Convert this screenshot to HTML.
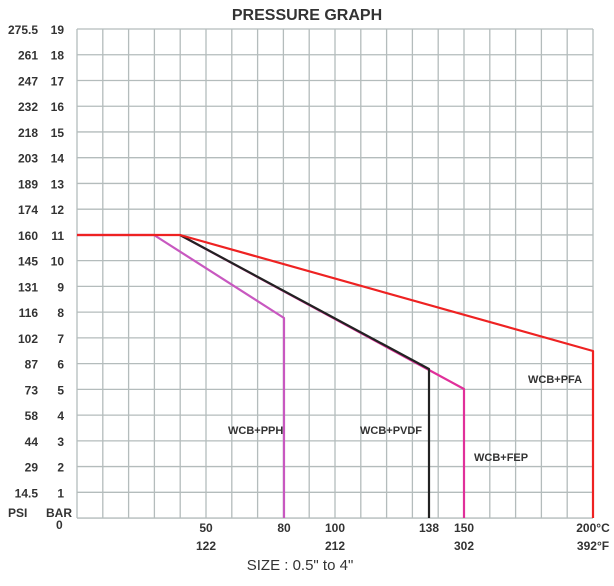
<!DOCTYPE html>
<html><head><style>
body{margin:0;background:#fff;}
svg text{font-family:"Liberation Sans Narrow","Liberation Sans",sans-serif;font-weight:bold;fill:#333;}
</style></head><body>
<svg width="614" height="581" viewBox="0 0 614 581" xmlns="http://www.w3.org/2000/svg">
<path stroke="#b4bcbc" stroke-width="1.3" fill="none" d="
M77 29V518M102.8 29V518M128.6 29V518M154.4 29V518M180.2 29V518M206 29V518M231.8 29V518M257.6 29V518M283.4 29V518M309.2 29V518M335 29V518M360.8 29V518M386.6 29V518M412.4 29V518M438.2 29V518M464 29V518M489.8 29V518M515.6 29V518M541.4 29V518M567.2 29V518M593 29V518
M77 29H593M77 54.74H593M77 80.48H593M77 106.22H593M77 131.96H593M77 157.7H593M77 183.44H593M77 209.18H593M77 234.92H593M77 260.66H593M77 286.4H593M77 312.14H593M77 337.88H593M77 363.62H593M77 389.36H593M77 415.1H593M77 440.84H593M77 466.58H593M77 492.32H593M77 518.06H593"/>
<text x="307" y="20" font-size="16" text-anchor="middle">PRESSURE GRAPH</text>
<g font-size="12" text-anchor="end">
<text x="38" y="34">275.5</text><text x="64" y="34">19</text>
<text x="38" y="59.7">261</text><text x="64" y="59.7">18</text>
<text x="38" y="85.5">247</text><text x="64" y="85.5">17</text>
<text x="38" y="111.2">232</text><text x="64" y="111.2">16</text>
<text x="38" y="137">218</text><text x="64" y="137">15</text>
<text x="38" y="162.7">203</text><text x="64" y="162.7">14</text>
<text x="38" y="188.4">189</text><text x="64" y="188.4">13</text>
<text x="38" y="214.2">174</text><text x="64" y="214.2">12</text>
<text x="38" y="239.9">160</text><text x="64" y="239.9">11</text>
<text x="38" y="265.7">145</text><text x="64" y="265.7">10</text>
<text x="38" y="291.4">131</text><text x="64" y="291.4">9</text>
<text x="38" y="317.1">116</text><text x="64" y="317.1">8</text>
<text x="38" y="342.9">102</text><text x="64" y="342.9">7</text>
<text x="38" y="368.6">87</text><text x="64" y="368.6">6</text>
<text x="38" y="394.4">73</text><text x="64" y="394.4">5</text>
<text x="38" y="420.1">58</text><text x="64" y="420.1">4</text>
<text x="38" y="445.8">44</text><text x="64" y="445.8">3</text>
<text x="38" y="471.6">29</text><text x="64" y="471.6">2</text>
<text x="38" y="497.3">14.5</text><text x="64" y="497.3">1</text>
</g>
<text x="8" y="517" font-size="12">PSI</text>
<text x="46" y="517" font-size="12">BAR</text>
<text x="56" y="529" font-size="12">0</text>
<g fill="none" stroke-width="2.2" stroke-linejoin="round">
<polyline points="77,235 154,235 284,318 284,518" stroke="#c858c0"/>
<polyline points="180,235 429,370 464,389 464,518" stroke="#e0309a"/>
<polyline points="180,235 429,369 429,518" stroke="#222"/>
<polyline points="77,235 180,235 593,351 593,518" stroke="#ee2222"/>
</g>
<g font-size="12" text-anchor="middle">
<text x="206" y="532">50</text><text x="206" y="550">122</text>
<text x="284" y="532">80</text>
<text x="335" y="532">100</text><text x="335" y="550">212</text>
<text x="429" y="532">138</text>
<text x="464" y="532">150</text><text x="464" y="550">302</text>
<text x="593" y="532">200°C</text><text x="593" y="550">392°F</text>
</g>
<g font-size="11">
<text x="228" y="434">WCB+PPH</text>
<text x="360" y="434">WCB+PVDF</text>
<text x="474" y="461">WCB+FEP</text>
<text x="528" y="383">WCB+PFA</text>
</g>
<text x="300" y="570" font-size="15" text-anchor="middle" style="font-weight:normal">SIZE : 0.5" to 4"</text>
</svg>
</body></html>
